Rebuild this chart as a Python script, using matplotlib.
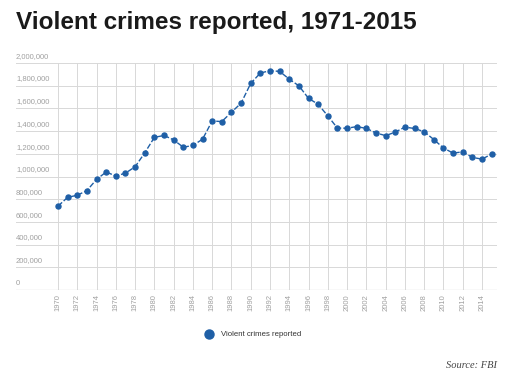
import matplotlib
matplotlib.use('Agg')
from matplotlib import pyplot as plt, ticker
from matplotlib.transforms import blended_transform_factory

years = list(range(1970, 2016))
crimes = [738820, 816500, 834900, 875910, 974720, 1039710, 1004210, 1029580,
          1085550, 1208030, 1344520, 1361820, 1322390, 1258090, 1273280, 1328800,
          1489170, 1484000, 1566220, 1646040, 1820130, 1911770, 1932270, 1926020,
          1857670, 1798790, 1688540, 1636100, 1533890, 1426040, 1425490, 1439480,
          1423680, 1383680, 1360090, 1390750, 1435120, 1422970, 1394460, 1325900,
          1251250, 1206010, 1217060, 1168300, 1153020, 1197700]
x_ticks = list(range(1970, 2015, 2))
y_ticks = list(range(0, 2000001, 200000))

BLUE = '#1f5fa6'
GRID = '#d8d8d8'
LABEL = '#a0a0a0'

def main():
    plt.rcParams['font.family'] = ['Liberation Sans', 'DejaVu Sans']
    fig = plt.figure(figsize=(5.1, 3.78), dpi=100)
    ax = fig.add_axes([16 / 510, 88 / 378, 481 / 510, 227 / 378])

    ax.plot(years, crimes, color=BLUE, lw=1.0, ls=(0, (4, 1.5)),
            marker='o', ms=3.6, mec=BLUE, mfc=BLUE, zorder=3)

    ax.set_xlim(1965.64, 2015.56)
    ax.set_ylim(0, 2000000)
    ax.set_xticks(x_ticks)
    ax.set_yticks(y_ticks)
    ax.set_yticklabels([])
    ax.set_xticklabels([str(y) for y in x_ticks], rotation=90, fontsize=5.5,
                       color=LABEL, va='top')
    ax.tick_params(axis='x', length=0, pad=3)
    ax.tick_params(axis='y', length=0)
    ax.grid(True, color=GRID, lw=0.7)
    ax.set_axisbelow(True)
    for s in ax.spines.values():
        s.set_visible(False)
    ax.axhline(0, color='#cfcfcf', lw=0.9, zorder=1)

    trans = blended_transform_factory(ax.transAxes, ax.transData)
    for v in y_ticks:
        ax.text(0.0, v + 28000, '{:,}'.format(v), transform=trans, fontsize=5.5,
                color=LABEL, ha='left', va='bottom')

    fig.text(16 / 510, 1 - 22 / 378, 'Violent crimes reported, 1971-2015',
             fontsize=17.5, fontweight='bold', color='#1a1a1a', ha='left', va='center')

    fig.lines.append(plt.Line2D([209 / 510], [1 - 334 / 378], marker='o', ms=6.5,
                                color=BLUE, transform=fig.transFigure))
    fig.text(221 / 510, 1 - 334 / 378, 'Violent crimes reported', fontsize=5.6,
             color='#333333', ha='left', va='center')

    fig.text(497 / 510, 1 - 366 / 378, 'Source: FBI', fontsize=7.5, style='italic',
             family='Liberation Serif', color='#444444', ha='right', va='center')

    fig.savefig('out.png', dpi=100)

if __name__ == '__main__':
    main()
